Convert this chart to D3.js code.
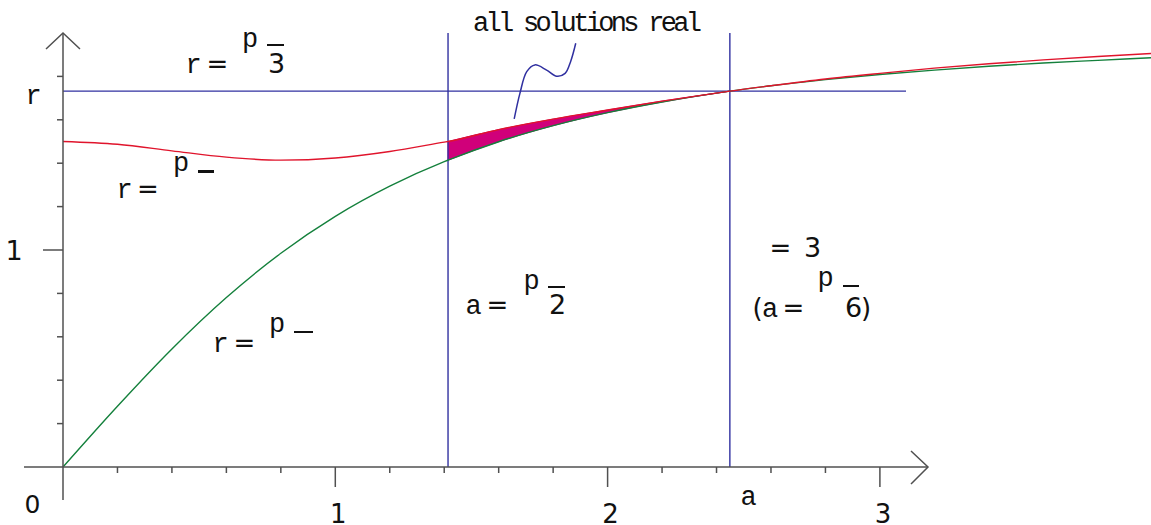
<!DOCTYPE html>
<html><head><meta charset="utf-8">
<script src="https://cdn.jsdelivr.net/npm/d3@7"></script>
<style>html,body{margin:0;padding:0;background:#fff;}svg{display:block;}</style>
</head><body>
<svg id="chart" width="1151" height="525"></svg>
<script>
// ---- data ----
const aValues = [0,0.2,0.4,0.6,0.8,1.0,1.2,1.4,1.414,1.6,1.8,2.0,2.2,2.4,2.449,2.6,2.8,3.0,3.2,3.4,3.6,3.8,4.0];
const greenR  = [0,0.280,0.544,0.781,0.985,1.155,1.294,1.407,1.414,1.499,1.573,1.633,1.682,1.723,1.732,1.757,1.785,1.809,1.829,1.847,1.862,1.874,1.886];
const redR    = [1.500,1.487,1.457,1.428,1.414,1.424,1.454,1.497,1.500,1.555,1.603,1.645,1.686,1.723,1.732,1.757,1.788,1.814,1.838,1.858,1.876,1.892,1.906];
const regionStart = 1.414, regionEnd = 2.449;   // a = sqrt2, a = sqrt6
const hLineR = 1.732, hLineEnd = 3.096;          // r = sqrt3
const vLineTop = 2.0;
const xMajorTicks = [1,2,3], xTickLabels = ["1","2","3"];
const xMinorTicks = [0.2,0.4,0.6,0.8,1.2,1.4,1.6,1.8,2.2,2.4,2.6,2.8];
const yMajorTicks = [1], yTickLabels = ["1"];
const yMinorTicks = [0.2,0.4,0.6,0.8,1.2,1.4,1.6,1.8];
const squiggleA = [1.657,1.678,1.703,1.733,1.776,1.813,1.844,1.864,1.883];
const squiggleR = [1.604,1.722,1.822,1.853,1.829,1.801,1.814,1.868,1.953];

// ---- scales ----
const x = d3.scaleLinear().domain([0,1]).range([63,335.3]);
const y = d3.scaleLinear().domain([0,1]).range([467,250]);

const svg = d3.select("#chart");
const AX = "#505050", BLUE = "#3030a0", RED = "#e0142c", GREEN = "#14803c", MAG = "#d0007a";
const MONO = "'Liberation Mono', monospace", SANS = "'DejaVu Sans', sans-serif";

const pts = (ar, rr) => ar.map((a,i)=>[a, rr[i]]);
const line = d3.line().x(d=>x(d[0])).y(d=>y(d[1])).curve(d3.curveMonotoneX);

// magenta region
const idx = aValues.map((a,i)=>i).filter(i=>aValues[i]>=regionStart && aValues[i]<=regionEnd);
const area = d3.area().x(i=>x(aValues[i])).y0(i=>y(greenR[i])).y1(i=>y(redR[i])).curve(d3.curveMonotoneX);
svg.append("path").attr("d", area(idx)).attr("fill", MAG).attr("stroke", MAG).attr("stroke-width", 1);

// blue reference lines
svg.append("line").attr("x1", x(0)).attr("x2", x(hLineEnd)).attr("y1", y(hLineR)).attr("y2", y(hLineR))
  .attr("stroke", BLUE).attr("stroke-width", 1.4);
[regionStart, regionEnd].forEach(a=>{
  svg.append("line").attr("x1", x(a)).attr("x2", x(a)).attr("y1", y(0)).attr("y2", y(vLineTop))
    .attr("stroke", BLUE).attr("stroke-width", 1.4);
});

// curves
svg.append("path").attr("d", line(pts(aValues, greenR))).attr("fill","none").attr("stroke", GREEN).attr("stroke-width", 1.4);
svg.append("path").attr("d", line(pts(aValues, redR))).attr("fill","none").attr("stroke", RED).attr("stroke-width", 1.4);

// squiggle
svg.append("path").attr("d", d3.line().x(d=>x(d[0])).y(d=>y(d[1])).curve(d3.curveCatmullRom)(pts(squiggleA, squiggleR)))
  .attr("fill","none").attr("stroke", BLUE).attr("stroke-width", 1.5);

// axes
const ax = svg.append("g").attr("stroke", AX).attr("stroke-width", 1.5).attr("fill","none");
ax.append("line").attr("x1", 24).attr("x2", 928).attr("y1", y(0)).attr("y2", y(0));
ax.append("path").attr("d", `M911,${y(0)-16}L928,${y(0)}L911,${y(0)+17}`);
ax.append("line").attr("x1", x(0)).attr("x2", x(0)).attr("y1", 500).attr("y2", 33);
ax.append("path").attr("d", `M${x(0)-17},49L${x(0)},33L${x(0)+17},49`);
xMinorTicks.forEach(t=>ax.append("line").attr("x1",x(t)).attr("x2",x(t)).attr("y1",y(0)).attr("y2",y(0)+6));
xMajorTicks.forEach(t=>ax.append("line").attr("x1",x(t)).attr("x2",x(t)).attr("y1",y(0)).attr("y2",y(0)+20));
yMinorTicks.forEach(t=>ax.append("line").attr("x1",x(0)-6).attr("x2",x(0)).attr("y1",y(t)).attr("y2",y(t)));
yMajorTicks.forEach(t=>ax.append("line").attr("x1",x(0)-20).attr("x2",x(0)).attr("y1",y(t)).attr("y2",y(t)));

// tick labels
const txt = (s, px, py, font, size, anchor) => svg.append("text").attr("x", px).attr("y", py)
  .attr("font-family", font).attr("font-size", size).attr("fill", "#111").attr("text-anchor", anchor||"start").text(s);
xMajorTicks.forEach((t,i)=>txt(xTickLabels[i], x(t)+3, 523, SANS, 26, "middle"));
yMajorTicks.forEach((t,i)=>txt(yTickLabels[i], 14, y(t)+10, SANS, 27, "middle"));
txt("0", 32.5, 513, SANS, 25, "middle");
txt("r", 33.5, 104, MONO, 27, "middle");
txt("a", 748.5, 505, MONO, 27, "middle");

// formula labels
const bar = (x1, x2, yy, w) => svg.append("line").attr("x1",x1).attr("x2",x2).attr("y1",yy).attr("y2",yy).attr("stroke","#111").attr("stroke-width", w||2);
// r = p(3)
txt("r", 193.5, 73, MONO, 27, "middle");
txt("=", 217.5, 73, SANS, 26, "middle");
txt("p", 250, 47, MONO, 27, "middle");
bar(267, 284, 45, 2);
txt("3", 276.5, 73, SANS, 27, "middle");
// r = p (red)
txt("r", 124.5, 198, MONO, 27, "middle");
txt("=", 148, 198, SANS, 26, "middle");
txt("p", 181, 171, MONO, 27, "middle");
bar(198, 214, 171.5, 3);
// r = p (green)
txt("r", 220.5, 352, MONO, 27, "middle");
txt("=", 244.5, 352, SANS, 26, "middle");
txt("p", 277, 332, MONO, 27, "middle");
bar(294, 313, 332, 2);
// a = p(2)
txt("a", 473.5, 314, MONO, 27, "middle");
txt("=", 497.5, 314, SANS, 26, "middle");
txt("p", 531.5, 289, MONO, 27, "middle");
bar(548, 565, 287, 2);
txt("2", 557.5, 314, SANS, 27, "middle");
// = 3 (a = p 6)
txt("=", 780.5, 257, SANS, 26, "middle");
txt("3", 812.5, 257, SANS, 27, "middle");
txt("(", 757.5, 317, SANS, 26, "middle");
txt("a", 770, 317, MONO, 27, "middle");
txt("=", 793.5, 317, SANS, 26, "middle");
txt("p", 825.5, 286, MONO, 27, "middle");
bar(843, 859, 286, 2);
txt("6", 853.5, 317, SANS, 27, "middle");
txt(")", 866, 317, SANS, 26, "middle");
// all solutions real
svg.append("text").attr("x", 473).attr("y", 31).attr("font-family", MONO).attr("font-size", 27).attr("fill","#111")
  .attr("textLength", 229).attr("lengthAdjust", "spacing").text("all solutions real");
</script>
</body></html>
